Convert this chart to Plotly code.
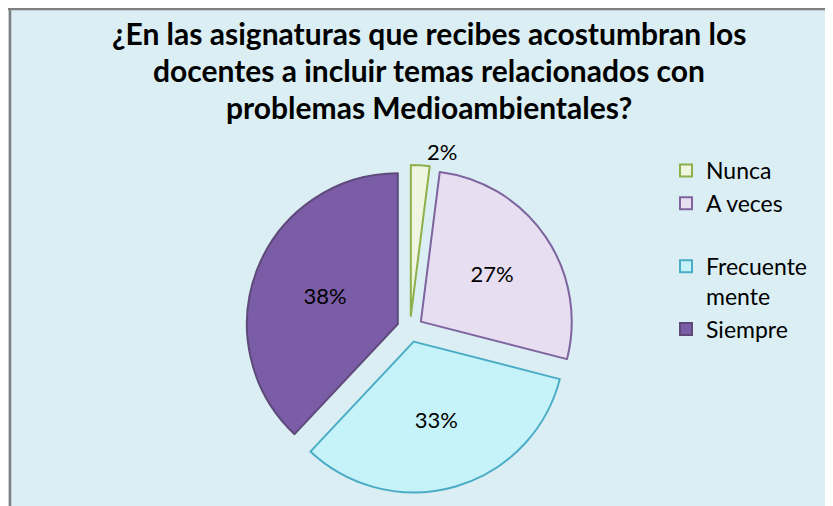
import plotly.graph_objects as go

# data
categorias = ["Nunca", "A veces", "Frecuente<br>mente", "Siempre"]
porcentajes = [2, 27, 33, 38]
titulo = ["¿En las asignaturas que recibes acostumbran los",
          "docentes a incluir temas relacionados con",
          "problemas Medioambientales?"]

colores = ["#EFF5E1", "#E7DEF2", "#C6F3FA", "#7B5CA6"]
bordes = ["#8EB04A", "#7E649E", "#4BACC6", "#5F497A"]

# the page adds an 8px body margin, so the figure is a bit smaller than the window
W, H = 825, 498

# legend spacing: Excel leaves a bigger gap after "A veces"
leyenda = [c if c != "A veces" else c + "<br> " for c in categorias]

fig = go.Figure()
fig.add_trace(go.Pie(
    labels=leyenda,
    values=porcentajes,
    sort=False,
    direction="clockwise",
    rotation=0,
    pull=[0.087] * 4,
    marker=dict(colors=colores, line=dict(color=bordes, width=2)),
    texttemplate="%{value}%",
    textposition=["outside", "inside", "inside", "inside"],
    insidetextorientation="horizontal",
    textfont=dict(family="Lato", size=22, color="black"),
    domain=dict(x=[238 / W, 566 / W], y=[13 / H, 341 / H]),
    hovertemplate="%{value}%<extra></extra>",
))

# title lines
for i, linea in enumerate(titulo):
    fig.add_annotation(
        text=linea, xref="paper", yref="paper",
        x=421.5 / W, y=1 - (25 + 37 * i) / H,
        showarrow=False, xanchor="center", yanchor="middle",
        font=dict(family="Lato", size=30, color="black", weight="bold"),
    )

# frame (left and top edges only)
fig.add_shape(type="line", xref="paper", yref="paper",
              x0=2 / W, x1=2 / W, y0=0, y1=1,
              line=dict(color="#7F7F7F", width=2.5))
fig.add_shape(type="line", xref="paper", yref="paper",
              x0=0, x1=1, y0=1 - 1 / H, y1=1 - 1 / H,
              line=dict(color="#7F7F7F", width=2.5))

fig.update_layout(
    width=W, height=H,
    margin=dict(l=0, r=0, t=0, b=0, autoexpand=False),
    paper_bgcolor="#DAEEF3",
    showlegend=True,
    legend=dict(
        x=658 / W, y=1 - 141 / H, xanchor="left", yanchor="top",
        bgcolor="rgba(0,0,0,0)",
        font=dict(family="Lato", size=23, color="black"),
        valign="top", itemwidth=30,
    ),
)

fig.write_html("out.html")
